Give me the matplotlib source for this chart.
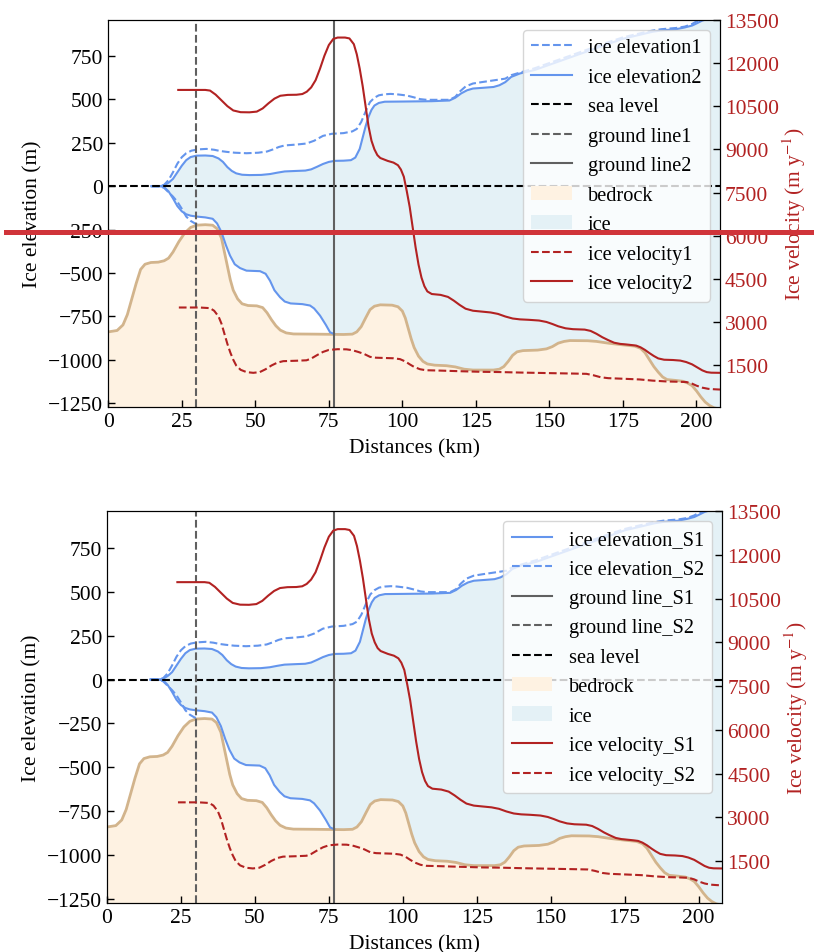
import numpy as np
import matplotlib
matplotlib.use("Agg")
import matplotlib.pyplot as plt
from matplotlib.lines import Line2D

plt.rcParams["font.family"] = ["Liberation Serif", "DejaVu Serif"]
plt.rcParams["mathtext.fontset"] = "stix"
plt.rcParams["font.size"] = 15.5

# --- profile along the flow line (distance in km) ---------------------------
bed_x = [0, 3, 5, 6.5, 8, 9.5, 11, 12.5, 14.5, 17, 19, 20.5, 22, 24, 26, 28,
         30, 33, 35.5, 37, 38.5, 39.5, 40.5, 41.5, 42.5, 44, 45.5, 47.5, 50.5,
         52.5, 54, 55.5, 57, 58.5, 60.5, 63, 70, 80, 83, 84.5, 86, 87.5, 89,
         90.5, 92.5, 96.5, 98.5, 100, 101, 102, 103, 104, 105.5, 107, 108.5,
         111, 115, 118, 121, 124, 131, 133, 134.5, 136, 137.5, 139, 141, 146,
         149, 151, 153, 155, 157, 163, 166, 170, 175, 179, 181, 182.5, 184,
         185.5, 187, 188.5, 190, 193, 195.5, 197, 198.5, 200, 201.5, 203,
         204.5, 206, 208]
bed_y = [-840, -832, -800, -740, -650, -560, -480, -450, -440, -438, -430,
         -415, -380, -320, -270, -238, -225, -222, -225, -245, -300, -380,
         -460, -540, -600, -650, -678, -688, -690, -700, -730, -770, -805,
         -830, -846, -852, -853, -855, -853, -840, -810, -760, -712, -692,
         -684, -686, -695, -720, -760, -820, -880, -930, -980, -1010, -1025,
         -1032, -1035, -1042, -1055, -1060, -1060, -1055, -1040, -1010, -975,
         -955, -948, -945, -938, -925, -905, -895, -890, -891, -895, -905,
         -915, -922, -935, -960, -1000, -1040, -1072, -1100, -1115, -1120,
         -1125, -1135, -1150, -1180, -1215, -1245, -1265, -1278, -1285]

# ice surface, run 2 (solid) and run 1 (dashed)
surf2_x = [14.7, 17.5, 19, 20.5, 22, 23.5, 25, 26.5, 28, 30, 33, 35.5, 37.5,
           39, 40.5, 42, 43.5, 45.5, 48, 52, 55, 57.5, 60, 64, 67, 69, 71, 73,
           75, 77, 80, 82.5, 84, 85.5, 86.5, 87.5, 88.5, 89.5, 90.5, 92, 94,
           100, 110, 116, 118, 120, 122, 124, 128, 131, 133, 135, 137, 140,
           145, 150, 155, 160, 165, 170, 175, 180, 185, 188, 193, 196, 198.5,
           200, 202, 204, 208]
surf2_y = [0, 0, 5, 20, 42, 80, 118, 150, 168, 176, 177, 174, 160, 140, 110,
           88, 74, 66, 64, 65, 70, 78, 85, 88, 90, 97, 112, 128, 140, 146, 147,
           150, 165, 215, 280, 345, 400, 440, 465, 480, 487, 488, 490, 494,
           510, 535, 553, 563, 568, 572, 582, 600, 630, 650, 670, 700, 730,
           760, 790, 820, 850, 870, 890, 898, 905, 915, 926, 938, 955, 965,
           975]
surf1_x = [14.7, 17.5, 19, 20.5, 22, 23.5, 25, 26.5, 28.3, 30.5, 33.4, 36, 38,
           40.2, 43, 47, 51, 54, 56, 58, 60, 64, 67.4, 70, 73, 76, 80, 83,
           84.5, 86, 87, 88, 89, 90.5, 92, 94, 96, 98, 101.4, 104, 106, 108.2,
           116, 118, 119.5, 121.5, 124, 127, 131, 135, 137, 140, 145, 150, 155,
           160, 165, 170, 175, 180, 185, 188, 193, 196, 198.5, 200, 202, 208]
surf1_y = [0, 0, 8, 35, 80, 130, 167, 190, 205, 212, 215, 210, 203, 198, 193,
           190, 193, 200, 212, 226, 235, 240, 246, 262, 290, 302, 306, 316,
           330, 370, 410, 450, 485, 510, 524, 530, 532, 530, 523, 512, 502,
           498, 498, 515, 545, 575, 592, 600, 610, 620, 640, 655, 680, 710,
           740, 770, 800, 830, 858, 878, 897, 905, 912, 920, 935, 950, 962,
           980]

# floating ice base up to each grounding line
base2_x = [14.7, 17.5, 19, 20.5, 22, 23.5, 25, 26.5, 28, 30, 33, 35.5, 37,
           38.5, 40, 41.4, 43, 44.8, 47, 51.6, 53.5, 55, 56.5, 58.4, 60, 62,
           66, 68.6, 70, 72, 74, 75.4, 76.8]
base2_y = [0, 0, -5, -30, -70, -115, -145, -162, -170, -175, -180, -188, -215,
           -265, -340, -400, -450, -472, -487, -490, -505, -545, -600, -640,
           -665, -676, -680, -688, -705, -746, -800, -842, -853]
base1_x = [14.7, 17.5, 19, 20.5, 22, 23.5, 25, 26.5, 28, 29.5, 30.5]
base1_y = [0, 0, -10, -35, -60, -90, -130, -175, -200, -215, -222]

GL1 = 30.0
GL2 = 76.8

# surface velocity (m/yr)
vel2_x = [23.8, 27, 30, 33, 34.6, 36.5, 38.5, 40.5, 42.5, 45, 48, 50.5, 52.5,
          54.5, 56.5, 58.5, 61, 64, 66, 67.5, 69, 70.5, 72, 73.5, 75, 76.5,
          78, 80.5, 82, 83.5, 84.5, 85.5, 86.5, 87.5, 88.5, 89.5, 90.5, 91.5,
          92.5, 95, 97, 98.5, 99.5, 100.5, 101.5, 102.5, 103.5, 104.5, 105.5,
          106.5, 107.5, 108.5, 110, 113, 115.5, 117.5, 119.5, 121.5, 124, 127,
          130, 132.5, 135, 137.5, 140, 143, 146.5, 149, 151, 153, 155.5, 158,
          162, 164, 166, 168, 170, 172, 174, 177, 179.5, 181, 182.5, 184,
          185.5, 187, 189, 192, 194.5, 196.5, 198.5, 200.5, 202, 203.5, 205,
          208]
vel2 = [11062, 11062, 11062, 11062, 11040, 10900, 10700, 10500, 10350, 10290,
        10285, 10310, 10420, 10600, 10760, 10860, 10890, 10895, 10920, 11000,
        11150, 11400, 11800, 12250, 12620, 12830, 12880, 12880, 12850, 12650,
        12300, 11800, 11200, 10500, 9800, 9300, 9000, 8800, 8700, 8600, 8540,
        8450, 8300, 8050, 7550, 7000, 6300, 5600, 5000, 4550, 4250, 4070,
        3980, 3950, 3880, 3750, 3600, 3470, 3400, 3370, 3340, 3290, 3200,
        3130, 3100, 3085, 3060, 3010, 2940, 2860, 2790, 2760, 2745, 2700,
        2600, 2480, 2380, 2290, 2250, 2220, 2190, 2130, 2040, 1930, 1830,
        1745, 1700, 1690, 1670, 1620, 1540, 1420, 1330, 1270, 1250, 1245]
vel1_x = [24, 28, 31, 34.6, 36, 37.5, 38.5, 39.5, 40.5, 41.5, 42.5, 43.5, 45,
          47, 49.3, 51.5, 53.5, 55.5, 57.5, 59.5, 64, 67.4, 69, 71, 73, 75,
          78, 81, 83, 85, 87, 89, 91, 94, 97, 99.2, 101, 102.5, 104, 106, 108,
          112, 120, 127, 133, 140, 150, 158, 162.6, 165, 167.5, 170, 175,
          180.7, 185, 189.8, 194, 196.6, 198.5, 200, 202, 204, 206, 208]
vel1 = [3512, 3512, 3512, 3490, 3400, 3200, 2950, 2600, 2250, 1950, 1700,
        1500, 1350, 1270, 1245, 1270, 1370, 1500, 1600, 1650, 1665, 1680,
        1740, 1860, 1970, 2040, 2065, 2060, 2030, 1970, 1900, 1800, 1770,
        1760, 1750, 1720, 1640, 1540, 1450, 1370, 1335, 1325, 1300, 1280,
        1272, 1255, 1235, 1220, 1210, 1160, 1090, 1060, 1040, 1015, 975, 946,
        935, 925, 870, 800, 730, 690, 675, 665]

LABELS_TOP = {
    "surf1": "ice elevation1", "surf2": "ice elevation2", "sea": "sea level",
    "gl1": "ground line1", "gl2": "ground line2", "bed": "bedrock",
    "ice": "ice", "vel1": "ice velocity1", "vel2": "ice velocity2",
}
ORDER_TOP = ["surf1", "surf2", "sea", "gl1", "gl2", "bed", "ice", "vel1", "vel2"]
LABELS_BOT = {
    "surf2": "ice elevation_S1", "surf1": "ice elevation_S2",
    "gl2": "ground line_S1", "gl1": "ground line_S2", "sea": "sea level",
    "bed": "bedrock", "ice": "ice", "vel2": "ice velocity_S1",
    "vel1": "ice velocity_S2",
}
ORDER_BOT = ["surf2", "surf1", "gl2", "gl1", "sea", "bed", "ice", "vel2", "vel1"]

BLUE = "#6495ed"
RED = "#b22222"
GREY = "#606060"
BED_LINE = "#d2b48c"
BED_FILL = "#fef2e2"
ICE_FILL = "#e4f1f6"


def draw_panel(fig, rect, labels, order):
    ax = fig.add_axes(rect)
    ax2 = ax.twinx()
    h = {}

    # ice body: grounded part follows the bed downstream of GL2
    bx = np.array(bed_x)
    by = np.array(bed_y)
    down = bx > GL2
    base_x = np.concatenate([base2_x, bx[down]])
    base_y = np.concatenate([base2_y, by[down]])
    h["ice"] = ax.fill(np.concatenate([surf2_x, base_x[::-1]]),
                       np.concatenate([surf2_y, base_y[::-1]]),
                       color=ICE_FILL, lw=0, label=labels["ice"])[0]
    h["bed"] = ax.fill_between(bed_x, bed_y, -1500, color=BED_FILL, lw=0,
                               label=labels["bed"])
    ax.plot(bed_x, bed_y, color=BED_LINE, lw=2)

    h["surf1"], = ax.plot(surf1_x, surf1_y, color=BLUE, ls="--", lw=1.5,
                          label=labels["surf1"])
    ax.plot(base1_x, base1_y, color=BLUE, ls="--", lw=1.5)
    h["surf2"], = ax.plot(surf2_x, surf2_y, color=BLUE, lw=1.5,
                          label=labels["surf2"])
    ax.plot(base2_x, base2_y, color=BLUE, lw=1.5)

    h["sea"] = ax.axhline(0, color="black", ls="--", lw=1.5,
                          label=labels["sea"])
    h["gl1"] = ax.axvline(GL1, color=GREY, ls="--", lw=1.5,
                          label=labels["gl1"])
    h["gl2"] = ax.axvline(GL2, color=GREY, lw=1.5, label=labels["gl2"])

    h["vel1"], = ax2.plot(vel1_x, vel1, color=RED, ls="--", lw=1.5,
                          label=labels["vel1"])
    h["vel2"], = ax2.plot(vel2_x, vel2, color=RED, lw=1.5,
                          label=labels["vel2"])

    ax.set_xlim(0, 208)
    ax.set_ylim(-1273, 960)
    ax2.set_ylim(60, 13500)
    ax.set_xticks(np.arange(0, 201, 25))
    ax.set_yticks(np.arange(-1250, 751, 250))
    ax2.set_yticks(np.arange(1500, 13501, 1500))
    ax.tick_params(direction="in", length=5, width=1)
    ax2.tick_params(direction="in", length=5, width=1, labelcolor=RED)
    ax.set_xlabel("Distances (km)", labelpad=5)
    ax.set_ylabel("Ice elevation (m)")
    ax2.set_ylabel("Ice velocity (m y$^{-1}$)", color=RED, labelpad=1)

    ax2.legend([h[k] for k in order], [labels[k] for k in order],
               loc="upper right", fontsize=14.7)
    return ax, ax2


def main():
    fig = plt.figure(figsize=(8.14, 9.53), dpi=100)
    draw_panel(fig, [0.1330, 0.5719, 0.7515, 0.4064], LABELS_TOP, ORDER_TOP)
    draw_panel(fig, [0.1314, 0.0514, 0.7560, 0.4113], LABELS_BOT, ORDER_BOT)
    # marker rule across the upper panel
    fig.add_artist(Line2D([0.0074, 1.0], [0.755, 0.755], color="#d0343a",
                          lw=3.6, transform=fig.transFigure, zorder=50))
    fig.savefig("out.png", dpi=100)


if __name__ == "__main__":
    main()
